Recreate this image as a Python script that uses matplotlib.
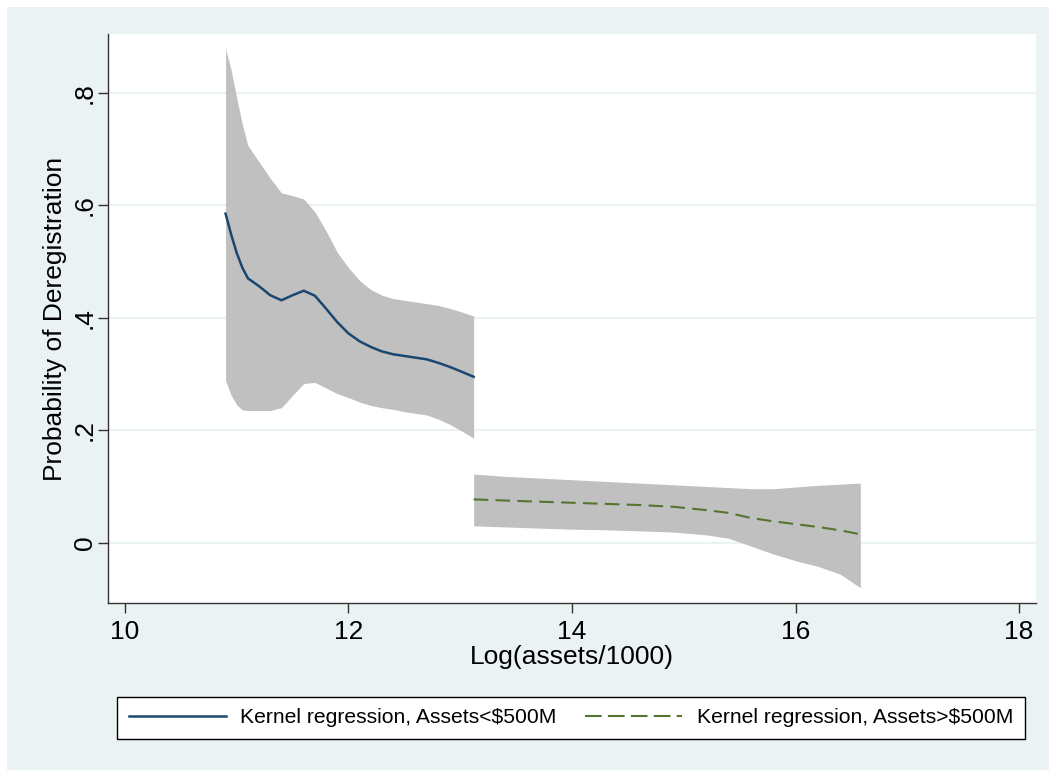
import numpy as np
import matplotlib
matplotlib.use('Agg')
import matplotlib.pyplot as plt
from matplotlib.patches import Rectangle
from matplotlib.lines import Line2D

plt.rcParams['font.family'] = ['Liberation Sans', 'DejaVu Sans']

# small banks (assets < $500M)
x_small = [10.90, 10.95, 11.00, 11.05, 11.10, 11.20, 11.30, 11.40, 11.50, 11.60,
           11.70, 11.80, 11.90, 12.00, 12.10, 12.20, 12.30, 12.40, 12.50, 12.60,
           12.70, 12.80, 12.90, 13.00, 13.12]
fit_small = [0.585, 0.548, 0.515, 0.489, 0.470, 0.456, 0.440, 0.431, 0.440, 0.448,
             0.439, 0.416, 0.392, 0.372, 0.358, 0.348, 0.340, 0.335, 0.332, 0.329,
             0.326, 0.320, 0.313, 0.305, 0.295]
hi_small = [0.878, 0.840, 0.790, 0.744, 0.706, 0.677, 0.648, 0.622, 0.617, 0.611,
            0.588, 0.554, 0.516, 0.489, 0.466, 0.450, 0.440, 0.434, 0.431, 0.428,
            0.425, 0.422, 0.417, 0.411, 0.403]
lo_small = [0.288, 0.262, 0.245, 0.236, 0.235, 0.235, 0.235, 0.240, 0.262, 0.283,
            0.285, 0.275, 0.265, 0.258, 0.250, 0.244, 0.240, 0.237, 0.233, 0.230,
            0.227, 0.220, 0.211, 0.200, 0.186]

# large banks (assets > $500M)
x_large = [13.12, 13.4, 13.7, 14.0, 14.3, 14.6, 14.9, 15.2, 15.4, 15.6, 15.8,
           16.0, 16.2, 16.4, 16.58]
fit_large = [0.077, 0.075, 0.073, 0.071, 0.069, 0.067, 0.064, 0.058, 0.053, 0.044,
             0.038, 0.033, 0.028, 0.022, 0.015]
hi_large = [0.122, 0.118, 0.115, 0.112, 0.109, 0.106, 0.103, 0.100, 0.098, 0.096,
            0.096, 0.099, 0.102, 0.104, 0.106]
lo_large = [0.030, 0.028, 0.026, 0.024, 0.023, 0.021, 0.019, 0.014, 0.008, -0.006,
            -0.020, -0.032, -0.042, -0.056, -0.080]

xticks = [10, 12, 14, 16, 18]
yticks = [0, 0.2, 0.4, 0.6, 0.8]
ylabels = ['0', '.2', '.4', '.6', '.8']

bg = '#eaf2f3'
blue = '#1a476f'
green = '#55752f'
band = '#c0c0c0'

fig = plt.figure(figsize=(10.49, 7.70), dpi=100, facecolor='white')
fig.patches.append(Rectangle((7 / 1049, 0), 1, 1 - 7 / 770, transform=fig.transFigure,
                             facecolor=bg, edgecolor='none', zorder=-10))

ax = fig.add_axes([108 / 1049, 1 - 603 / 770, (1036 - 108) / 1049, (603 - 34) / 770])
ax.set_facecolor('white')

ax.fill_between(x_small, lo_small, hi_small, color=band, lw=0, zorder=2)
ax.fill_between(x_large, lo_large, hi_large, color=band, lw=0, zorder=2)
ax.plot(x_small, fit_small, color=blue, lw=1.8, zorder=3)
ax.plot(x_large, fit_large, color=green, lw=1.5, ls=(0, (7, 3.5)), zorder=3)

ax.set_xlim(9.848, 18.152)
ax.set_ylim(-0.1072, 0.9044)
ax.set_xticks(xticks)
ax.set_yticks(yticks)
ax.set_yticklabels(ylabels, rotation=90, va='center')
ax.grid(axis='y', color=bg, lw=1.5, zorder=0)
ax.set_axisbelow(True)
for s in ['top', 'right']:
    ax.spines[s].set_visible(False)
for s in ['left', 'bottom']:
    ax.spines[s].set_color('#333333')
    ax.spines[s].set_linewidth(1.0)
ax.tick_params(axis='both', labelsize=19, length=7, width=1, color='#333333')
ax.tick_params(axis='x', pad=5)
ax.tick_params(axis='y', pad=1)
ax.set_xlabel('Log(assets/1000)', fontsize=19, labelpad=1)
ax.set_ylabel('Probability of Deregistration', fontsize=19, labelpad=4)

handles = [Line2D([], [], color=blue, lw=1.8),
           Line2D([], [], color=green, lw=1.5, ls=(0, (8, 3)))]
labels = ['Kernel regression, Assets<$500M', 'Kernel regression, Assets>$500M']
leg = fig.legend(handles, labels, ncol=2, loc='lower left', mode='expand',
                 bbox_to_anchor=(117 / 1049, 1 - 739 / 770, (1025 - 117) / 1049, 50 / 770),
                 borderaxespad=0, fontsize=15.2, handlelength=4.6, handletextpad=0.7,
                 columnspacing=1.6, fancybox=False, framealpha=1, borderpad=0.55)
leg.get_frame().set_edgecolor('black')
leg.get_frame().set_linewidth(1.0)

fig.savefig('out.png', dpi=100, facecolor=fig.get_facecolor())
